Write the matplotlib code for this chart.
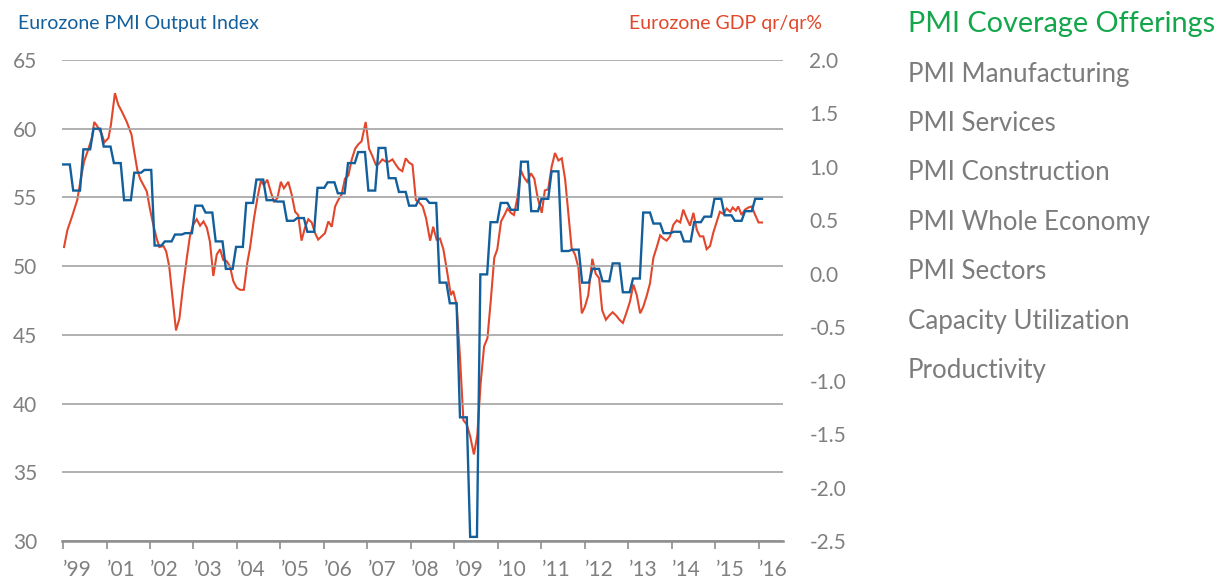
import matplotlib
matplotlib.use("Agg")
import matplotlib.pyplot as plt
import numpy as np

# Eurozone PMI output index, quarterly levels (drawn at monthly resolution)
pmi_quarterly = [57.4, 55.5, 58.5, 60.0, 58.7, 57.5, 54.8, 56.8, 57.0, 51.5,
                 51.8, 52.3, 52.4, 54.4, 53.9, 51.8, 49.8, 51.4, 54.6, 56.3,
                 54.8, 54.7, 53.3, 53.5, 52.5, 55.7, 56.1, 55.3, 57.5, 58.3,
                 55.5, 58.6, 56.4, 55.4, 54.4, 54.9, 54.6, 48.8, 47.3, 39.0,
                 30.3, 49.4, 53.2, 54.6, 54.1, 57.6, 54.0, 54.9, 56.9, 51.1,
                 51.2, 48.8, 49.8, 48.9, 50.2, 48.1, 49.1, 53.9, 53.1, 52.4,
                 52.5, 51.8, 53.2, 53.6, 54.9, 53.7, 53.3, 54.0, 54.9]

# Eurozone GDP qr/qr %, month index since start and value
gdp_month = [0.3, 1.3, 2.6, 4.2, 5.2, 6.2, 7.5, 8.5, 9.2, 10.1, 11.4, 12.2, 13.4, 14.1,
             15.3, 16.3, 17.3, 18.8, 20.2, 20.9, 21.9, 22.7, 23.7, 24.7, 25.6, 26.6,
             27.6, 28.4, 29.6, 30.4, 31.3, 32.3, 33.3, 34.3, 35.3, 36.5, 37.4, 38.4,
             39.4, 40.4, 41.4, 42.4, 43.3, 44.3, 45.3, 46.3, 47.2, 48.2, 49.2, 50.2,
             51.2, 52.2, 53.3, 54.3, 55.1, 56.3, 57.3, 58.3, 59.2, 60.2, 61.2, 62.2,
             63.2, 64.2, 65.1, 66.4, 67.4, 68.4, 69.3, 70.3, 71.3, 72.3, 73.3, 74.3,
             75.2, 76.2, 77.2, 78.2, 79.2, 80.2, 81.1, 82.1, 83.1, 84.1, 85.1, 86.1,
             87.0, 88.0, 89.2, 90.2, 91.2, 92.2, 93.1, 94.1, 95.1, 96.1, 97.1, 98.1,
             99.0, 100.0, 101.0, 102.0, 103.0, 104.0, 104.9, 106.0, 107.0, 108.2,
             109.1, 110.1, 111.1, 112.1, 113.1, 114.3, 115.0, 116.0, 117.0, 118.0,
             119.0, 120.0, 121.1, 122.1, 123.1, 124.1, 125.1, 126.1, 127.1, 128.0,
             129.1, 130.1, 131.0, 132.0, 132.9, 133.9, 134.9, 135.9, 136.8, 137.9,
             138.9, 139.9, 141.1, 142.0, 143.0, 144.0, 145.0, 146.0, 147.0, 148.0,
             148.9, 149.9, 150.9, 151.9, 152.9, 153.8, 154.8, 156.0, 157.0, 158.0,
             158.9, 160.0, 161.0, 162.0, 163.0, 164.0, 165.0, 166.0, 167.1, 168.1,
             169.1, 170.1, 171.0, 172.0, 173.0, 174.0, 175.0, 176.0, 176.9, 177.9,
             178.9, 179.9, 180.9, 181.9, 182.8, 183.8, 184.8, 185.8, 186.8, 187.7,
             188.7, 189.7, 190.7, 191.7, 192.7, 193.6, 194.6, 195.6, 196.6, 197.4,
             198.3, 199.0, 200.0, 201.0, 202.0, 203.0, 204.0, 205.0, 206.0]
gdp_value = [0.25, 0.41, 0.53, 0.69, 0.88, 1.05, 1.17, 1.27, 1.42, 1.38, 1.31, 1.23, 1.27, 1.39,
             1.69, 1.58, 1.52, 1.42, 1.30, 1.16, 0.97, 0.89, 0.83, 0.77, 0.61, 0.46,
             0.33, 0.25, 0.26, 0.21, 0.07, -0.23, -0.53, -0.42, -0.14, 0.15, 0.35, 0.46,
             0.51, 0.45, 0.49, 0.43, 0.30, -0.02, 0.18, 0.23, 0.13, 0.12, 0.07, -0.07,
             -0.13, -0.15, -0.15, 0.10, 0.24, 0.52, 0.71, 0.87, 0.83, 0.88, 0.77, 0.67,
             0.71, 0.86, 0.80, 0.86, 0.74, 0.58, 0.55, 0.31, 0.43, 0.51, 0.48, 0.38,
             0.32, 0.35, 0.38, 0.49, 0.44, 0.63, 0.69, 0.74, 0.89, 0.92, 1.07, 1.17,
             1.21, 1.24, 1.42, 1.17, 1.10, 1.02, 1.03, 1.07, 1.05, 1.05, 1.07, 1.02,
             0.98, 0.96, 1.08, 1.04, 1.02, 0.69, 0.67, 0.63, 0.52, 0.31,
             0.44, 0.32, 0.33, 0.23, 0.04, -0.20, -0.16, -0.29, -0.78, -1.37,
             -1.41, -1.52, -1.69, -1.51, -1.02, -0.68, -0.60, -0.24, 0.15, 0.23,
             0.49, 0.55, 0.61, 0.57, 0.55, 0.71, 0.97, 0.90, 0.86, 0.94,
             0.89, 0.71, 0.57, 0.78, 0.79, 1.00, 1.13, 1.06, 1.08, 0.88,
             0.58, 0.24, 0.18, 0.06, -0.37, -0.31, -0.20, 0.14, 0.00, -0.04,
             -0.34, -0.43, -0.39, -0.36, -0.39, -0.43, -0.46, -0.37, -0.26, -0.10,
             -0.20, -0.37, -0.31, -0.21, -0.09, 0.15, 0.25, 0.36, 0.33, 0.31,
             0.35, 0.46, 0.50, 0.48, 0.60, 0.52, 0.45, 0.57, 0.41, 0.35,
             0.35, 0.23, 0.26, 0.39, 0.49, 0.58, 0.56, 0.61, 0.58, 0.62,
             0.59, 0.63, 0.55, 0.60, 0.62, 0.63, 0.55, 0.48, 0.48]

year_labels = ["\u201999", "\u201901", "\u201902", "\u201903", "\u201904", "\u201905",
               "\u201906", "\u201907", "\u201908", "\u201909", "\u201910", "\u201911",
               "\u201912", "\u201913", "\u201914", "\u201915", "\u201916"]
pmi_ticks = [30, 35, 40, 45, 50, 55, 60, 65]
gdp_ticks = [-2.5, -2.0, -1.5, -1.0, -0.5, 0.0, 0.5, 1.0, 1.5, 2.0]

offerings = ["PMI Manufacturing", "PMI Services", "PMI Construction",
             "PMI Whole Economy", "PMI Sectors", "Capacity Utilization", "Productivity"]

BLUE = "#135f9c"
RED = "#e2472b"
GREEN = "#13a64b"
GREY_TXT = "#7f7f7f"

plt.rcParams['font.family'] = ['Lato', 'DejaVu Sans']

W, H = 1221, 583
fig = plt.figure(figsize=(W / 100, H / 100), dpi=100)
ax = fig.add_axes([62 / W, (H - 541) / H, (783 - 62) / W, (541 - 60) / H])
ax2 = ax.twinx()

pmi_monthly = np.repeat(pmi_quarterly, 3)
months = np.arange(len(pmi_monthly))

ax2.plot(gdp_month, gdp_value, color=RED, lw=1.5, solid_joinstyle='miter')
ax.plot(months, pmi_monthly, color=BLUE, lw=1.7, solid_joinstyle='miter')
ax.set_zorder(ax2.get_zorder() + 1)
ax.patch.set_visible(False)

ax.set_xlim(-0.3, 212.2)
ax.set_ylim(30, 65)
ax2.set_ylim(-2.5, 2.0)

ax.set_yticks(pmi_ticks)
ax.set_yticklabels([str(v) for v in pmi_ticks])
ax2.set_yticks(gdp_ticks)
ax2.set_yticklabels([f"{v:.1f}" for v in gdp_ticks])
ax.yaxis.grid(True, color="#a3a3a3", lw=1.2)
ax.set_axisbelow(True)

ax.set_xticks(np.linspace(0, 205.1, len(year_labels)))
ax.set_xticklabels(year_labels)
for lab in ax.get_xticklabels():
    lab.set_ha('left')

for a in (ax, ax2):
    for s in a.spines.values():
        s.set_visible(False)
ax.spines['bottom'].set_visible(True)
ax.spines['bottom'].set_color("#8e8e8e")
ax.spines['bottom'].set_linewidth(1.8)

ax.tick_params(axis='y', length=0, pad=18, labelsize=15, labelcolor=GREY_TXT)
ax2.tick_params(axis='y', length=0, pad=19, labelsize=15, labelcolor=GREY_TXT)
ax.tick_params(axis='x', direction='out', length=6, width=1.2, color="#8e8e8e",
               pad=8, labelsize=15, labelcolor=GREY_TXT)

fig.text(18 / W, 1 - 29.5 / H, "Eurozone PMI Output Index", color=BLUE,
         fontsize=14, va='baseline', ha='left')
fig.text(822 / W, 1 - 29.5 / H, "Eurozone GDP qr/qr%", color=RED,
         fontsize=14, va='baseline', ha='right')

fig.text(908 / W, 1 - 32 / H, "PMI Coverage Offerings", color=GREEN,
         fontsize=20.8, va='baseline', ha='left')
for i, name in enumerate(offerings):
    fig.text(908 / W, 1 - (81.7 + 49.4 * i) / H, name, color="#7c7c7c",
             fontsize=18.6, va='baseline', ha='left')

fig.savefig("out.png", dpi=100)
